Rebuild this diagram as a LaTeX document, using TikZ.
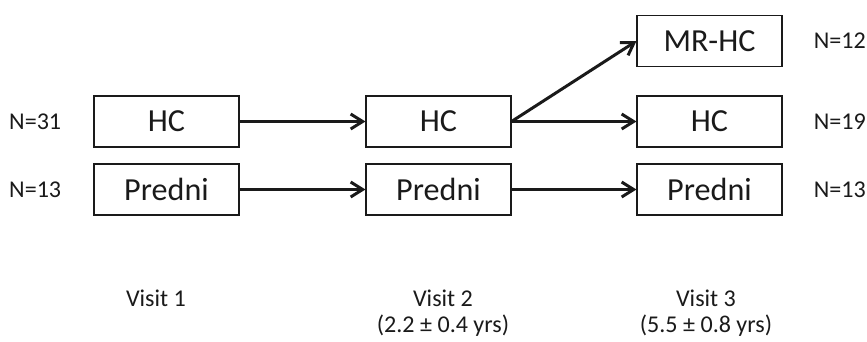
\documentclass[tikz,border=0pt]{standalone}
\usepackage{fontspec}
\setmainfont{Carlito}
\usetikzlibrary{positioning,arrows.meta}
\definecolor{ink}{HTML}{1A1A1A}
\tikzset{
  group/.style={draw=ink, line width=0.6pt, minimum width=2.9cm, minimum height=1.02cm,
    inner sep=0pt, text=ink, font=\fontsize{18.3}{20}\selectfont},
  count/.style={text=ink, inner sep=0pt, font=\fontsize{13.7}{15}\selectfont},
  visit/.style={text=ink, inner sep=0pt, align=center, anchor=north,
    font=\fontsize{13.7}{14.8}\selectfont},
  flow/.style={draw=ink, line width=1.7pt, -{Straight Barb[length=0.24cm,width=0.3cm]}}
}
\begin{document}
\begin{tikzpicture}[x=0.02cm,y=-0.02cm]
      \useasboundingbox (0,0) rectangle (867,342);
      \draw
        (166.5,121.5) node[group] (hc1){HC}
        (166.5,189.5) node[group] (pr1){Predni}
        (438.5,121.5) node[group] (hc2){HC}
        (438.5,189.5) node[group] (pr2){Predni}
        (709.5,41) node[group] (mr3){MR-HC}
        (709.5,121.5) node[group] (hc3){HC}
        (709.5,189.5) node[group] (pr3){Predni};
      % group sizes
      \node[count, left=0.64cm of hc1] (n1){N=31};
      \node[count, left=0.64cm of pr1] (n2){N=13};
      \node[count, right=0.62cm of mr3] (n3){N=12};
      \node[count, right=0.62cm of hc3] (n4){N=19};
      \node[count, right=0.62cm of pr3] (n5){N=13};
      % visits
      \node[visit] (v1) at (156,290) {Visit 1};
      \node[visit] (v2) at (443,290) {Visit 2\\(2.2 ± 0.4 yrs)};
      \node[visit] (v3) at (706,290) {Visit 3\\(5.5 ± 0.8 yrs)};
      \begin{scope}[flow]
        \draw (hc1.east) to (hc2.west);
        \draw (pr1.east) to (pr2.west);
        \draw (hc2.east) to (mr3.west);
        \draw (hc2.east) to (hc3.west);
        \draw (pr2.east) to (pr3.west);
      \end{scope}
    \end{tikzpicture}
\end{document}
